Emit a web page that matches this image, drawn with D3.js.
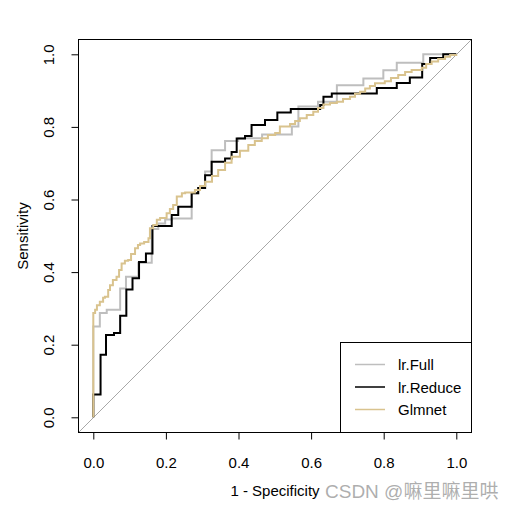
<!DOCTYPE html>
<html>
<head>
<meta charset="utf-8">
<script src="https://cdn.jsdelivr.net/npm/d3@7"></script>
<style>
html,body{margin:0;padding:0;background:#fff;}
svg{display:block;font-family:"Liberation Sans",Arial,sans-serif;}
</style>
</head>
<body>
<svg id="chart" width="512" height="511"></svg>
<script>
// ---- data ----
const seriesNames = ["lr.Full", "lr.Reduce", "Glmnet"];
const seriesColors = ["#bebebe", "#000000", "#d9c38e"];
const xTicks = [0.0, 0.2, 0.4, 0.6, 0.8, 1.0];
const yTicks = [0.0, 0.2, 0.4, 0.6, 0.8, 1.0];

const fullFpr = [0, 0, 0.018, 0.037, 0.074, 0.090, 0.124, 0.161, 0.179, 0.198, 0.216, 0.271, 0.289, 0.308, 0.326, 0.363, 0.399, 0.465, 0.547, 0.565, 0.619, 0.671, 0.744, 0.799, 0.836, 0.909, 1];
const fullTpr = [0, 0.250, 0.287, 0.296, 0.355, 0.387, 0.426, 0.519, 0.534, 0.545, 0.548, 0.617, 0.632, 0.677, 0.736, 0.761, 0.769, 0.779, 0.801, 0.856, 0.869, 0.915, 0.933, 0.956, 0.977, 1, 1];

const reduceFpr = [0, 0, 0.020, 0.035, 0.057, 0.074, 0.091, 0.108, 0.126, 0.145, 0.163, 0.216, 0.234, 0.271, 0.289, 0.308, 0.326, 0.363, 0.381, 0.395, 0.418, 0.436, 0.473, 0.507, 0.544, 0.625, 0.634, 0.657, 0.781, 0.836, 0.872, 0.906, 0.928, 0.964, 1];
const reduceTpr = [0, 0.063, 0.172, 0.227, 0.232, 0.280, 0.352, 0.383, 0.428, 0.451, 0.527, 0.557, 0.580, 0.617, 0.632, 0.667, 0.704, 0.713, 0.731, 0.768, 0.775, 0.805, 0.819, 0.840, 0.849, 0.860, 0.883, 0.892, 0.907, 0.921, 0.936, 0.973, 0.990, 1, 1];

const glmFpr = [0, 0, 0.005, 0.010, 0.018, 0.027, 0.032, 0.041, 0.046, 0.054, 0.064, 0.071, 0.078, 0.087, 0.096, 0.104, 0.115, 0.123, 0.129, 0.140, 0.152, 0.156, 0.165, 0.175, 0.184, 0.202, 0.211, 0.220, 0.230, 0.244, 0.253, 0.280, 0.294, 0.308, 0.327, 0.344, 0.363, 0.381, 0.404, 0.427, 0.445, 0.464, 0.481, 0.501, 0.514, 0.542, 0.556, 0.569, 0.588, 0.606, 0.619, 0.634, 0.652, 0.671, 0.688, 0.707, 0.721, 0.735, 0.749, 0.762, 0.776, 0.803, 0.820, 0.840, 0.859, 0.877, 0.905, 0.917, 0.932, 0.950, 0.969, 0.983, 1];
const glmTpr = [0, 0.287, 0.296, 0.309, 0.318, 0.329, 0.332, 0.351, 0.364, 0.378, 0.387, 0.406, 0.424, 0.431, 0.433, 0.450, 0.466, 0.475, 0.479, 0.483, 0.493, 0.521, 0.530, 0.544, 0.549, 0.562, 0.574, 0.585, 0.608, 0.617, 0.619, 0.626, 0.637, 0.649, 0.665, 0.681, 0.701, 0.718, 0.734, 0.750, 0.761, 0.769, 0.778, 0.783, 0.801, 0.808, 0.816, 0.824, 0.833, 0.842, 0.852, 0.862, 0.866, 0.869, 0.877, 0.883, 0.891, 0.897, 0.906, 0.913, 0.920, 0.926, 0.935, 0.943, 0.951, 0.957, 0.963, 0.973, 0.980, 0.987, 0.993, 0.998, 1];

// ---- layout ----
const svg = d3.select("#chart");
const box = {left: 78.5, right: 471.5, top: 39.5, bottom: 432.5};
const x = d3.scaleLinear().domain([0, 1]).range([93.3, 456.3]);
const y = d3.scaleLinear().domain([0, 1]).range([417.3, 54.3]);
const font = 15;

// diagonal reference line across the whole box
svg.append("line")
  .attr("x1", box.left).attr("y1", box.bottom)
  .attr("x2", box.right).attr("y2", box.top)
  .attr("stroke", "#a8a8a8").attr("stroke-width", 1);

const series = [
  {fpr: fullFpr, tpr: fullTpr},
  {fpr: reduceFpr, tpr: reduceTpr},
  {fpr: glmFpr, tpr: glmTpr}
];
const line = d3.line().x(d => x(d[0])).y(d => y(d[1])).curve(d3.curveStepAfter);
series.forEach((s, i) => {
  const pts = s.fpr.map((v, j) => [v, s.tpr[j]]);
  svg.append("path")
    .attr("d", line(pts))
    .attr("fill", "none")
    .attr("stroke", seriesColors[i])
    .attr("stroke-width", 2);
});

// plot box
svg.append("rect")
  .attr("x", box.left).attr("y", box.top)
  .attr("width", box.right - box.left).attr("height", box.bottom - box.top)
  .attr("fill", "none").attr("stroke", "#000").attr("stroke-width", 1);

// x axis
const gx = svg.append("g").attr("transform", `translate(0,${box.bottom})`)
  .call(d3.axisBottom(x).tickValues(xTicks).tickFormat(d3.format(".1f")).tickSize(7).tickPadding(18));
gx.select(".domain").remove();
gx.selectAll(".tick line").attr("stroke", "#000");
gx.selectAll(".tick text").attr("font-size", font).attr("fill", "#000").attr("font-family", "Liberation Sans, Arial, sans-serif");

// y axis
const gy = svg.append("g").attr("transform", `translate(${box.left},0)`)
  .call(d3.axisLeft(y).tickValues(yTicks).tickFormat(d3.format(".1f")).tickSize(7));
gy.select(".domain").remove();
gy.selectAll(".tick line").attr("stroke", "#000");
gy.selectAll(".tick text")
  .attr("font-size", font).attr("fill", "#000").attr("font-family", "Liberation Sans, Arial, sans-serif")
  .attr("text-anchor", "middle").attr("dy", null).attr("x", null)
  .attr("transform", "translate(-24.5,0) rotate(-90)");

// axis titles
svg.append("text")
  .attr("x", (box.left + box.right) / 2).attr("y", 496)
  .attr("text-anchor", "middle").attr("font-size", font).text("1 - Specificity");
svg.append("text")
  .attr("transform", `translate(27.5,${(box.top + box.bottom) / 2}) rotate(-90)`)
  .attr("text-anchor", "middle").attr("font-size", font).text("Sensitivity");

// legend
const lg = svg.append("g");
lg.append("rect")
  .attr("x", 340.5).attr("y", 342.5)
  .attr("width", box.right - 340.5).attr("height", box.bottom - 342.5)
  .attr("fill", "#fff").attr("stroke", "#000").attr("stroke-width", 1);
seriesNames.forEach((name, i) => {
  const yy = 364.5 + i * 22.5;
  lg.append("line").attr("x1", 355).attr("x2", 385).attr("y1", yy).attr("y2", yy)
    .attr("stroke", seriesColors[i]).attr("stroke-width", 1.5);
  lg.append("text").attr("x", 398).attr("y", yy + 5.5)
    .attr("font-size", font).text(name);
});

// watermark
svg.append("text")
  .attr("x", 325).attr("y", 498)
  .attr("font-size", 19).attr("fill", "#a0a0a0").attr("fill-opacity", 0.85)
  .attr("font-family", "Liberation Sans, 'Noto Sans CJK SC', sans-serif")
  .text("CSDN @嘛里嘛里哄");
</script>
</body>
</html>
